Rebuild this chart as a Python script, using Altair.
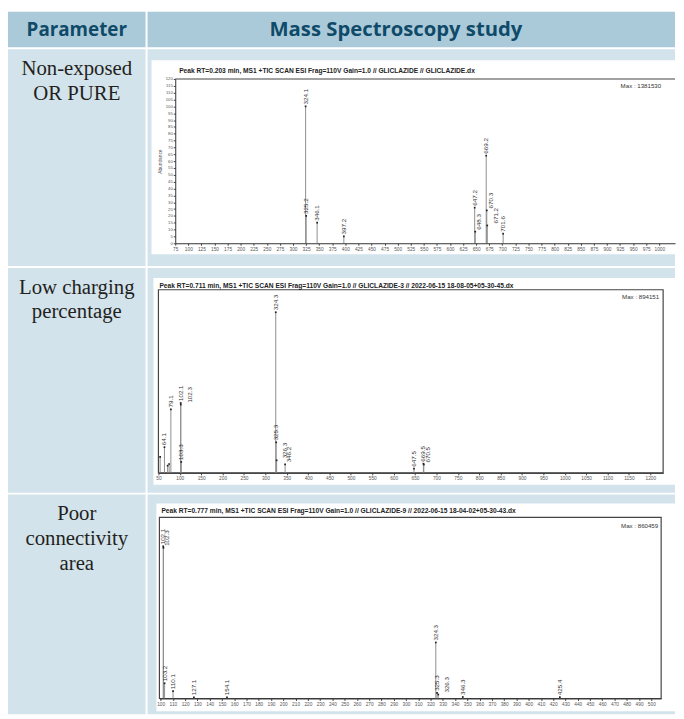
import altair as alt
import pandas as pd

# ---------------- data ----------------
header_left = "Parameter"
header_right = "Mass Spectroscopy study"
parameters = ["Non-exposed\nOR PURE", "Low charging\npercentage", "Poor\nconnectivity\narea"]

titles = [
    "Peak RT=0.203 min, MS1 +TIC SCAN ESI Frag=110V Gain=1.0 // GLICLAZIDE // GLICLAZIDE.dx",
    "Peak RT=0.711 min, MS1 +TIC SCAN ESI Frag=110V Gain=1.0 // GLICLAZIDE-3 // 2022-06-15 18-08-05+05-30-45.dx",
    "Peak RT=0.777 min, MS1 +TIC SCAN ESI Frag=110V Gain=1.0 // GLICLAZIDE-9 // 2022-06-15 18-04-02+05-30-43.dx",
]
max_labels = ["Max : 1381530", "Max : 894151", "Max : 860459"]

# spectrum 1 (non-exposed / pure)
mz1 = [324.1, 325.2, 346.1, 397.2, 647.2, 648.3, 669.2, 670.3, 671.2, 701.6]
ab1 = [100.0, 20.0, 15.0, 5.0, 26.0, 8.5, 64.0, 24.0, 13.0, 7.0]
lab1 = ["324.1", "325.2", "346.1", "397.2", "647.2", "648.3", "669.2", "670.3", "671.2", "701.6"]
near1 = ["648.3", "670.3"]
far1 = ["671.2"]

# spectrum 2 (low charging percentage)
mz2 = [54.0, 64.1, 71.5, 75.0, 79.1, 102.1, 102.3, 103.3, 324.3, 325.3, 326.3, 346.2, 647.5, 669.5, 670.5]
ab2 = [10.0, 16.0, 4.5, 5.5, 39.5, 43.5, 42.5, 6.8, 100.0, 19.0, 7.8, 5.3, 2.6, 5.7, 5.2]
lab2 = ["", "64.1", "", "", "79.1", "102.1", "102.3", "103.3", "324.3", "325.3", "326.3", "346.2",
        "647.5", "669.5", "670.5"]
near2 = ["346.2", "670.5"]
far2 = ["102.3", "326.3"]

# spectrum 3 (poor connectivity area)
mz3 = [102.1, 102.3, 103.2, 110.1, 127.1, 154.1, 324.3, 325.3, 326.3, 346.3, 425.4]
ab3 = [100.0, 99.0, 10.0, 4.8, 0.8, 0.8, 36.8, 3.7, 2.6, 1.0, 0.9]
lab3 = ["102.1", "102.3", "103.2", "110.1", "127.1", "154.1", "324.3", "325.3", "326.3", "346.3", "425.4"]
near3 = ["102.3"]
far3 = ["326.3"]

x_ticks1 = list(range(75, 1001, 25))
y_ticks1 = list(range(0, 121, 5))
x_ticks2 = list(range(50, 1201, 50))
x_ticks3 = list(range(100, 501, 10))

# ---------------- style / layout ----------------
HEAD_BG = "#abcad9"
CELL_BG = "#d3e3ec"
HEAD_TXT = "#0f4a69"
BODY_TXT = "#231f20"
W_LEFT, W_RIGHT, GAP = 139, 533, 2
H_HEAD = 36
H_ROWS = [219, 227, 222]

GEO = [
    dict(box=(4, 11, 533, 207), xdom=[75, 1030], xr=[28, 533], ydom=[0, 120], yr=[196, 30],
         title=(32, 24), maxpos=(519, 37), frame="open"),
    dict(box=(6, 10, 533, 219), xdom=[50, 1230], xr=[11, 521], ydom=[0, 114], yr=[207, 22],
         title=(12, 20), maxpos=(517, 29), frame="rect"),
    dict(box=(9, 9, 533, 219), xdom=[99, 508], xr=[12, 519], ydom=[0, 119], yr=[206, 23],
         title=(14, 19), maxpos=(516, 32), frame="rect"),
]


def bg(fill):
    return alt.ViewBackground(fill=fill, stroke=None)


def text_cell(txt, w, h, fill, x, y, **kw):
    df = pd.DataFrame({"t": [txt]})
    return (
        alt.Chart(df)
        .mark_text(**kw)
        .encode(x=alt.value(x), y=alt.value(y), text="t:N")
        .properties(width=w, height=h, view=bg(fill))
    )


def spectrum(i, mz, ab, lab, near, far, xticks, yticks, h):
    g = GEO[i]
    df = pd.DataFrame({"mz": mz, "ab": ab, "lab": lab})
    df["base"] = 0.0
    meta = pd.DataFrame({"title": [titles[i]], "mx": [max_labels[i]]})
    xs = alt.Scale(domain=g["xdom"], range=g["xr"], nice=False, zero=False)
    ys = alt.Scale(domain=g["ydom"], range=g["yr"], nice=False, zero=False)
    xaxis = alt.Axis(values=xticks, orient="bottom", offset=g["yr"][0] - h, title=None, grid=False,
                     format="d", labelFontSize=4.8, labelColor="#555", labelFont="Liberation Sans",
                     tickSize=2, tickColor="#444", domainColor="#333", labelPadding=1,
                     labelOverlap=False, labelFlush=False, zindex=1)
    if yticks:
        yaxis = alt.Axis(values=yticks, orient="left", offset=-g["xr"][0], title="Abundance",
                         format="d", titleFontSize=4.8, titleFontWeight="normal", titleColor="#555",
                         titleFont="Liberation Sans", titlePadding=3, grid=False, labelFontSize=4.3,
                         labelColor="#555", labelFont="Liberation Sans", tickSize=2,
                         domainColor="#333", tickColor="#444", labelPadding=1,
                         labelOverlap=False, labelFlush=False, zindex=1)
    else:
        yaxis = None
    X = alt.X("mz:Q", scale=xs, axis=xaxis)
    Y = alt.Y("ab:Q", scale=ys, axis=yaxis)

    bx0, by0, bx1, by1 = g["box"]
    box = alt.Chart(meta).mark_rect(color="white").encode(
        x=alt.value(bx0), x2=alt.value(bx1), y=alt.value(by0), y2=alt.value(by1))
    if g["frame"] == "rect":
        frame = alt.Chart(meta).mark_rect(fill="transparent", stroke="#444", strokeWidth=1.2).encode(
            x=alt.value(g["xr"][0]), x2=alt.value(g["xr"][1]),
            y=alt.value(g["yr"][1]), y2=alt.value(g["yr"][0]))
    else:
        frame = alt.Chart(meta).mark_rule(color="#444", strokeWidth=1.2).encode(
            x=alt.value(g["xr"][0]), x2=alt.value(g["xr"][1]), y=alt.value(g["yr"][1]))

    peaks = alt.Chart(df).mark_rule(color="#8f8f8f", strokeWidth=1).encode(x=X, y=Y, y2="base:Q")
    dots = (alt.Chart(df).transform_filter("datum.lab != ''")
            .mark_square(size=3, color="#222", opacity=1).encode(x=X, y=Y))

    main = [l for l in lab if l and l not in near and l not in far]
    labels = []
    for group, dy in ((main, 0), (near, 4), (far, 9)):
        if not group:
            continue
        labels.append(
            alt.Chart(df)
            .transform_filter(alt.FieldOneOfPredicate(field="lab", oneOf=group))
            .mark_text(angle=270, align="left", baseline="middle", fontSize=6.3,
                       font="Liberation Sans", color="#333", dx=2, dy=dy)
            .encode(x=X, y=Y, text="lab:N")
        )

    title = alt.Chart(meta).mark_text(align="left", baseline="alphabetic", fontSize=6.7,
                                      fontWeight="bold", font="Liberation Sans", color="#222").encode(
        x=alt.value(g["title"][0]), y=alt.value(g["title"][1]), text="title:N")
    maxt = alt.Chart(meta).mark_text(align="right", baseline="middle", fontSize=6.2,
                                     font="Liberation Sans", color="#333").encode(
        x=alt.value(g["maxpos"][0]), y=alt.value(g["maxpos"][1]), text="mx:N")

    return alt.layer(box, frame, peaks, dots, *labels, title, maxt).properties(
        width=W_RIGHT, height=h, view=bg(CELL_BG))


head_font = dict(font="Open Sans", fontWeight="bold", color=HEAD_TXT,
                 align="center", baseline="alphabetic")
header = alt.hconcat(
    text_cell(header_left, W_LEFT, H_HEAD, HEAD_BG, W_LEFT / 2, 25, fontSize=19, **head_font),
    text_cell(header_right, W_RIGHT, H_HEAD, HEAD_BG, 251, 25, fontSize=20.5, **head_font),
    spacing=GAP,
)

body_font = dict(font="Liberation Serif", fontSize=21, color=BODY_TXT,
                 align="center", baseline="alphabetic", lineBreak="\n", lineHeight=25)

spec_data = [
    (mz1, ab1, lab1, near1, far1, x_ticks1, y_ticks1),
    (mz2, ab2, lab2, near2, far2, x_ticks2, None),
    (mz3, ab3, lab3, near3, far3, x_ticks3, None),
]

rows = []
for i, (mz, ab, lab, near, far, xt, yt) in enumerate(spec_data):
    h = H_ROWS[i]
    rows.append(alt.hconcat(
        text_cell(parameters[i], W_LEFT, h, CELL_BG, W_LEFT / 2, 26, **body_font),
        spectrum(i, mz, ab, lab, near, far, xt, yt, h),
        spacing=GAP,
    ))

chart = (
    alt.vconcat(header, *rows, spacing=GAP)
    .properties(background="white", padding=0)
    .configure_view(stroke=None)
)

chart.save("out.html", embed_options={"renderer": "svg", "actions": False})
